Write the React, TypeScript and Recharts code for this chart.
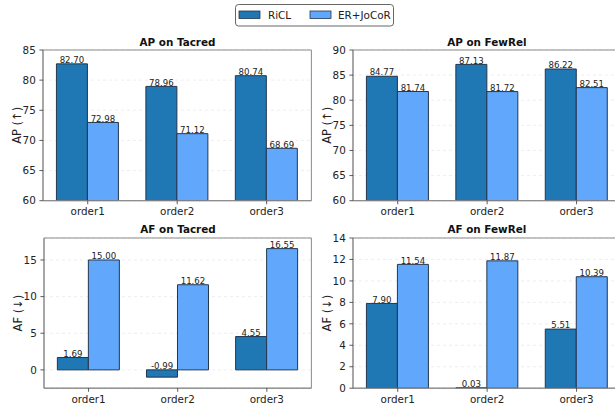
import React from 'react';
import { BarChart, Bar, XAxis, YAxis, CartesianGrid, LabelList, Label, ReferenceArea } from 'recharts';

const categories = ['order1', 'order2', 'order3'];

const apTacredRiCL = [82.7, 78.96, 80.74];
const apTacredER = [72.98, 71.12, 68.69];
const apFewRelRiCL = [84.77, 87.13, 86.22];
const apFewRelER = [81.74, 81.72, 82.51];
const afTacredRiCL = [1.69, -0.99, 4.55];
const afTacredER = [15.0, 11.62, 16.55];
const afFewRelRiCL = [7.9, 0.03, 5.51];
const afFewRelER = [11.54, 11.87, 10.39];

const apTacredTicks = [60, 65, 70, 75, 80, 85];
const apFewRelTicks = [60, 65, 70, 75, 80, 85, 90];
const afTacredTicks = [0, 5, 10, 15];
const afFewRelTicks = [0, 2, 4, 6, 8, 10, 12, 14];

const seriesNames = ['RiCL', 'ER+JoCoR'];

const build = (a: number[], b: number[]) =>
  categories.map((c, i) => ({ cat: c, ricl: a[i], er: b[i] }));

const C_DARK = '#1f77b4';
const C_LIGHT = '#61a8fd';
const EDGE = '#23354d';
const SPINE = '#8a8a8a';
const FONT = 'DejaVu Sans';

const AXW = 44;
const PADT = 10;
const PADR = 10;
const AXH = 26;

type Box = [number, number, number, number];

const ValueLabel = (props: any) => {
  const vb = props.viewBox || props;
  const x = Number(vb.x ?? props.x);
  const y = Number(vb.y ?? props.y);
  const w = Number(vb.width ?? props.width);
  const h = Number(vb.height ?? props.height);
  const top = Math.min(y, y + h);
  const v = Number(props.value);
  return (
    <text x={x + w / 2} y={top - 0.8} textAnchor="middle" fontSize={8.6} fill="#222" fontFamily={FONT}>
      {v.toFixed(2)}
    </text>
  );
};

function Panel({ data, domain, ticks, yLabel, box }: { data: any[]; domain: [number, number]; ticks: number[]; yLabel: string; box: Box }) {
  const [L, T, R, B] = box;
  const w = R - L + AXW + PADR;
  const h = B - T + PADT + AXH;
  const renderYLabel = (p: any) => {
    const vb = p.viewBox || {};
    const cx = vb.x + vb.width - 26;
    const cy = vb.y + vb.height / 2;
    return (
      <text x={cx} y={cy} transform={`rotate(-90 ${cx} ${cy})`} textAnchor="middle" dominantBaseline="central" fontSize={11.5} fill="#222" fontFamily={FONT}>
        {yLabel}
      </text>
    );
  };
  return (
    <div style={{ position: 'absolute', left: L - AXW, top: T - PADT }}>
      <BarChart width={w} height={h} data={data} margin={{ top: PADT, right: PADR, bottom: 0, left: 0 }} barGap={0} barCategoryGap="15%">
        <CartesianGrid vertical={false} stroke="#e6e6e6" strokeDasharray="3 3" strokeWidth={0.7} />
        <ReferenceArea y1={domain[0]} y2={domain[1]} fill="none" stroke={SPINE} strokeWidth={1} ifOverflow="visible" />
        <XAxis
          dataKey="cat"
          height={AXH}
          interval={0}
          tickSize={3.6}
          tickMargin={3.4}
          axisLine={{ stroke: SPINE, strokeWidth: 1 }}
          tickLine={{ stroke: '#333', strokeWidth: 0.8 }}
          tick={{ fontSize: 10.4, fill: '#222', fontFamily: FONT }}
        />
        <YAxis
          domain={domain}
          ticks={ticks}
          width={AXW}
          allowDataOverflow
          interval={0}
          tickSize={3.6}
          tickMargin={3.6}
          axisLine={{ stroke: SPINE, strokeWidth: 1 }}
          tickLine={{ stroke: '#333', strokeWidth: 0.8 }}
          tick={{ fontSize: 10.4, fill: '#222', fontFamily: FONT }}
        >
          <Label content={renderYLabel} />
        </YAxis>
        <Bar dataKey="ricl" name={seriesNames[0]} fill={C_DARK} stroke={EDGE} strokeWidth={1} isAnimationActive={false}>
          <LabelList dataKey="ricl" content={ValueLabel} />
        </Bar>
        <Bar dataKey="er" name={seriesNames[1]} fill={C_LIGHT} stroke={EDGE} strokeWidth={1} isAnimationActive={false}>
          <LabelList dataKey="er" content={ValueLabel} />
        </Bar>
      </BarChart>
    </div>
  );
}

const panels: { title: string; yLabel: string; data: any[]; domain: [number, number]; ticks: number[]; box: Box }[] = [
  { title: 'AP on Tacred', yLabel: 'AP (↑)', data: build(apTacredRiCL, apTacredER), domain: [60, 85], ticks: apTacredTicks, box: [43.3, 50, 311.7, 200.7] },
  { title: 'AP on FewRel', yLabel: 'AP (↑)', data: build(apFewRelRiCL, apFewRelER), domain: [60, 90], ticks: apFewRelTicks, box: [352.7, 50, 621, 200.7] },
  { title: 'AF on Tacred', yLabel: 'AF (↓)', data: build(afTacredRiCL, afTacredER), domain: [-2.5, 18], ticks: afTacredTicks, box: [44.3, 237.5, 311.7, 387.7] },
  { title: 'AF on FewRel', yLabel: 'AF (↓)', data: build(afFewRelRiCL, afFewRelER), domain: [0, 14], ticks: afFewRelTicks, box: [352.7, 237.5, 621, 387.7] },
];

export default function App() {
  return (
    <div style={{ position: 'absolute', left: 0, top: 0, width: 615, height: 404, overflow: 'hidden', background: '#fff', fontFamily: FONT }}>
      {panels.map((p) => (
        <Panel key={p.title} data={p.data} domain={p.domain} ticks={p.ticks} yLabel={p.yLabel} box={p.box} />
      ))}
      <svg width={615} height={404} style={{ position: 'absolute', left: 0, top: 0, pointerEvents: 'none' }}>
        {panels.map((p) => (
          <text key={p.title} x={(p.box[0] + p.box[2]) / 2} y={p.box[1] - 4.3} textAnchor="middle" fontWeight="bold" fontSize={10.4} fill="#111" fontFamily={FONT}>
            {p.title}
          </text>
        ))}
        <rect x={235.5} y={4.5} width={158} height={21.5} rx={3} fill="#fff" stroke="#555" strokeWidth={0.9} />
        <rect x={239} y={11} width={21} height={7.5} fill={C_DARK} stroke={EDGE} strokeWidth={0.8} />
        <text x={268} y={18.8} fontSize={10.4} fill="#222" fontFamily={FONT}>{seriesNames[0]}</text>
        <rect x={310} y={11} width={21} height={7.5} fill={C_LIGHT} stroke={EDGE} strokeWidth={0.8} />
        <text x={338} y={18.8} fontSize={10.4} fill="#222" fontFamily={FONT}>{seriesNames[1]}</text>
      </svg>
    </div>
  );
}
